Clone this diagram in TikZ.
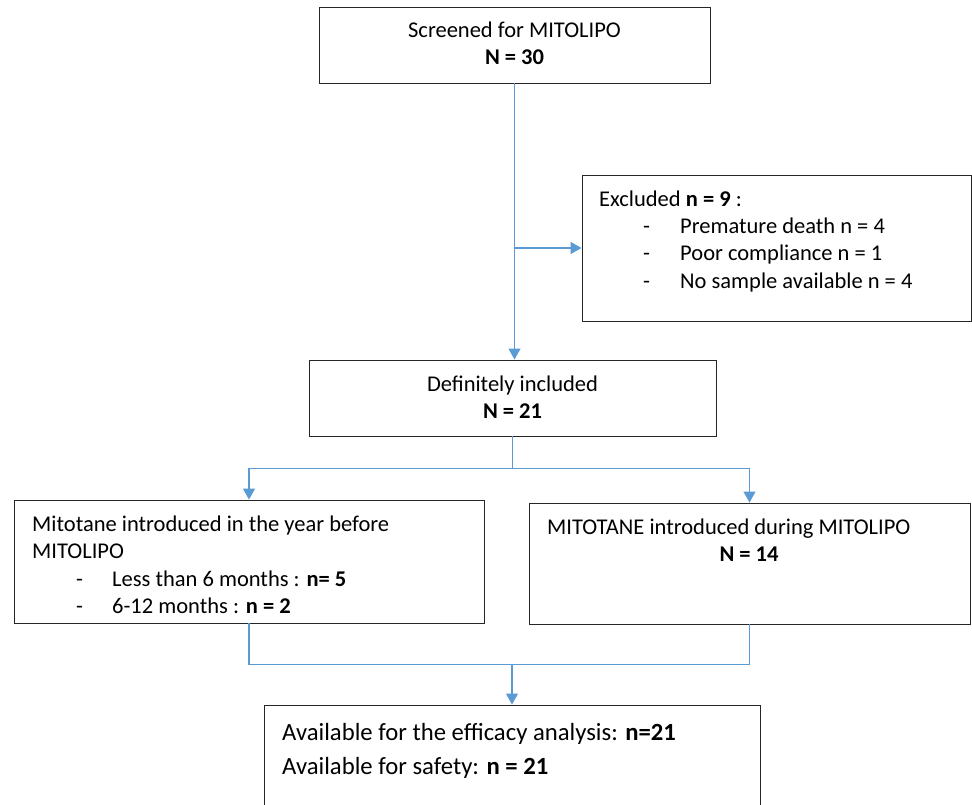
\documentclass[tikz,border=0pt]{standalone}
\usepackage{fontspec}
\setmainfont{Carlito}
\usetikzlibrary{arrows.meta}
\definecolor{flowblue}{HTML}{5B9BD5}
\tikzset{
  box/.style={draw=black!85,line width=0.9pt,inner sep=0pt},
  txt/.style={inner sep=0pt,font=\fontsize{22.5}{27}\selectfont},
  bigtxt/.style={inner sep=0pt,font=\fontsize{24.7}{34}\selectfont},
  flow/.style={draw=flowblue,line width=1.2pt},
  tip/.style={-{Triangle[width=12pt,length=11pt]}}
}
\newcommand{\dashitem}[1]{\makebox[#1][l]{-}}
\begin{document}
\begin{tikzpicture}[x=1pt,y=-1pt]
  \clip (0,0) rectangle (972,805);
  % boxes
  \node[box,minimum width=391pt,minimum height=76pt] (screen) at (514.5,45) {};
  \node[box,minimum width=389pt,minimum height=146pt] (excl) at (776.5,248) {};
  \node[box,minimum width=407pt,minimum height=76pt] (incl) at (512.5,398) {};
  \node[box,minimum width=470pt,minimum height=123pt] (before) at (249,561.5) {};
  \node[box,minimum width=441pt,minimum height=121pt] (during) at (749.5,563.5) {};
  \node[box,minimum width=496pt,minimum height=104pt] (avail) at (512,757) {};
  % texts
  \node[txt,anchor=base] (screenA) at (514.5,38) {Screened for MITOLIPO};
  \node[txt,anchor=base] (screenB) at (514.5,65) {\textbf{N = 30}};
  \node[txt,anchor=base west] (exclA) at (599,207) {Excluded \textbf{n = 9} :};
  \node[txt,anchor=base west] (exclB) at (643,234) {\dashitem{37pt}Premature death n = 4};
  \node[txt,anchor=base west] (exclC) at (643,261) {\dashitem{37pt}Poor compliance n = 1};
  \node[txt,anchor=base west] (exclD) at (643,288) {\dashitem{37pt}No sample available n = 4};
  \node[txt,anchor=base] (inclA) at (512.5,391) {Definitely included};
  \node[txt,anchor=base] (inclB) at (512.5,418) {\textbf{N = 21}};
  \node[txt,anchor=base west] (beforeA) at (32,531) {Mitotane introduced in the year before};
  \node[txt,anchor=base west] (beforeB) at (32,558) {MITOLIPO};
  \node[txt,anchor=base west] (beforeC) at (76,586) {\dashitem{36pt}Less than 6 months : \textbf{n= 5}};
  \node[txt,anchor=base west] (beforeD) at (76,613) {\dashitem{36pt}6-12 months : \textbf{n = 2}};
  \node[txt,anchor=base west] (duringA) at (547,534) {MITOTANE introduced during MITOLIPO};
  \node[txt,anchor=base] (duringB) at (749,561) {\textbf{N = 14}};
  \node[bigtxt,anchor=base west] (availA) at (282,740) {Available for the efficacy analysis: \textbf{n=21}};
  \node[bigtxt,anchor=base west] (availB) at (282,774) {Available for safety: \textbf{n = 21}};
  % connectors
  \draw[flow,tip] (screen.south) -- (screen.south |- incl.north);
  \draw[flow,tip] (screen.south |- excl.west) -- (excl.west);
  \draw[flow] (incl.south) -- ++(0,32) coordinate (split);
  \draw[flow,tip] (split) -| (before.north);
  \draw[flow,tip] (split) -| (during.north);
  \draw[flow] (before.south) -- ++(0,41) coordinate (join) -| (during.south);
  \draw[flow,tip] (join -| avail.north) -- (avail.north);
\end{tikzpicture}
\end{document}
